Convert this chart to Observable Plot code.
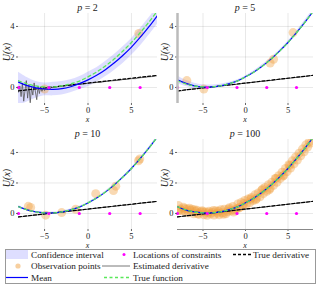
<!DOCTYPE html>
<html><head><meta charset="utf-8">
<script src="https://cdn.jsdelivr.net/npm/d3@7"></script>
<script src="https://cdn.jsdelivr.net/npm/@observablehq/plot@0.6"></script>
<style>
body{margin:0;background:#fff;}
#c{position:relative;width:317px;height:285px;font-family:"Liberation Serif",serif;overflow:hidden;color:#222}
#c svg text{font-family:"Liberation Serif",serif !important}
.p{position:absolute}
.t{position:absolute;white-space:nowrap;transform:translate(-50%,-50%);line-height:1;font-family:"Liberation Serif",serif}
.yl{position:absolute;white-space:nowrap;transform:translate(-50%,-50%) rotate(-90deg);line-height:1;font-size:10px;font-style:italic;font-family:"Liberation Serif",serif}
</style></head><body><div id="c"></div>
<script>
// ---- data ----
const xGrid = [-8,-7,-6,-5,-4,-3,-2,-1,0,1,2,3,4,5,6,7,8];
const trueFn = [0.44,0.23,0.10,0.04,0.04,0.11,0.24,0.42,0.70,1.02,1.41,1.86,2.38,2.95,3.59,4.28,5.03];
const trueDerivX = [-8, 8];
const trueDerivY = [-0.22, 0.80];
const constraintX = [-8, -4.5, -1, 2.5, 6];
const xTicks = [-5, 0, 5];
const yTicks = [0, 2, 4];
const titles = ["2", "5", "10", "100"];

// p = 2
const obs1X = [-5.0, 5.85];
const obs1Y = [-0.1, 3.54];
const mean1 = [0.35,0.12,-0.02,-0.1,-0.12,-0.08,0.05,0.25,0.5,0.8,1.17,1.6,2.1,2.65,3.28,3.97,4.72];
const upper1 = [1.0,0.65,0.4,0.3,0.35,0.4,0.5,0.7,1.0,1.3,1.7,2.15,2.65,3.2,3.85,4.55,5.3];
const lower1 = [-1.2,-0.95,-0.7,-0.55,-0.55,-0.5,-0.35,-0.15,0.05,0.35,0.7,1.1,1.55,2.1,2.7,3.4,4.15];
const deriv1X = [-8,-7.85,-7.7,-7.55,-7.4,-7.25,-7.1,-6.95,-6.8,-6.65,-6.5,-6.35,-6.2,-6.05,-5.9,-5.75,-5.6,-5.45,-5.3,-5.15,-5.0,-4.85,-4.7,-4.55,-4.4,-4.2,-4.0,-3.5,-3,-2.5,-2,-1.5,-1,-0.5,0,0.5,1,1.5,2,2.5,3,3.5,4,4.5,5,5.5,6,6.5,7,7.5,8];
const deriv1Y = [-0.3,0.1,-0.6,0.3,-0.9,-0.2,0.45,-0.7,0.2,-1.0,0.0,-0.5,0.3,-0.3,-0.8,0.1,-0.4,0.05,-0.25,0.0,-0.2,-0.05,-0.15,0.0,-0.1,0.0,0.0,0.05,0.08,0.12,0.13,0.2,0.24,0.22,0.28,0.3,0.33,0.34,0.4,0.42,0.45,0.46,0.52,0.53,0.58,0.58,0.64,0.66,0.70,0.72,0.78];

// p = 5
const obs2X = [-6.9,-4.9,2.9,3.3,5.6];
const obs2Y = [0.45,-0.1,1.6,1.85,3.6];
const mean2 = [0.5,0.27,0.1,0.03,0.04,0.11,0.24,0.42,0.70,1.02,1.41,1.86,2.38,2.95,3.59,4.28,5.03];
const upper2 = [0.75,0.47,0.28,0.18,0.16,0.21,0.32,0.49,0.76,1.09,1.50,1.94,2.45,3.03,3.69,4.40,5.18];
const lower2 = [0.25,0.07,-0.08,-0.12,-0.08,0.01,0.16,0.35,0.64,0.95,1.32,1.78,2.31,2.87,3.49,4.16,4.88];
const deriv2 = [-0.27,-0.15,-0.09,-0.02,0.03,0.1,0.16,0.21,0.29,0.35,0.41,0.46,0.54,0.6,0.66,0.73,0.8];

// p = 10
const obs3X = [-6.87,-6.6,-4.88,-3.03,-1.42,0.89,2.93,3.2,5.81,5.96];
const obs3Y = [0.47,0.4,-0.11,0.06,0.28,1.3,1.51,1.79,3.46,3.57];
const mean3 = [0.45,0.24,0.10,0.04,0.04,0.11,0.24,0.42,0.69,1.01,1.40,1.86,2.38,2.95,3.59,4.28,5.03];
const upper3 = [0.53,0.30,0.15,0.09,0.09,0.16,0.29,0.47,0.74,1.06,1.45,1.91,2.43,3.00,3.64,4.34,5.11];
const lower3 = [0.37,0.18,0.05,-0.01,-0.01,0.06,0.19,0.37,0.64,0.96,1.35,1.81,2.33,2.90,3.54,4.22,4.95];
const deriv3 = [-0.24,-0.17,-0.1,-0.03,0.04,0.09,0.16,0.22,0.28,0.35,0.42,0.47,0.54,0.59,0.67,0.73,0.79];

// p = 100
const obs4X = [-7.9,-7.7,-7.5,-7.3,-7.1,-6.9,-6.7,-6.5,-6.3,-6.1,-5.9,-5.7,-5.5,-5.3,-5.1,-4.9,-4.7,-4.5,-4.3,-4.1,-3.9,-3.7,-3.5,-3.3,-3.1,-2.9,-2.7,-2.5,-2.3,-2.1,-1.9,-1.7,-1.5,-1.3,-1.1,-0.9,-0.7,-0.5,-0.3,-0.1,0.1,0.3,0.5,0.7,0.9,1.1,1.3,1.5,1.7,1.9,2.1,2.3,2.5,2.7,2.9,3.1,3.3,3.5,3.7,3.9,4.1,4.3,4.5,4.7,4.9,5.1,5.3,5.5,5.7,5.9,6.1,6.3,6.5,6.7,6.9,7.1,7.3,7.5,7.7,-7.8,-7.2,-6.6,-6.0,-5.6,-5.0,-4.4,-3.8,-3.2,-2.6,-2.0,-1.4,-0.8,-0.2,0.6,1.2,2.0,2.8,3.6,4.4,5.2];
const obs4Y = [0.52,0.30,0.18,0.41,0.12,0.30,0.05,0.22,0.28,-0.02,0.15,0.22,-0.06,0.12,0.18,-0.08,0.10,-0.12,0.15,-0.03,0.08,-0.10,0.18,0.02,-0.08,0.25,0.05,0.28,-0.02,0.12,0.38,0.18,0.45,0.22,0.30,0.62,0.40,0.72,0.48,0.85,0.60,0.95,0.70,1.05,0.85,1.22,0.98,1.35,1.10,1.52,1.30,1.70,1.45,1.88,1.65,2.05,1.85,2.30,2.05,2.48,2.30,2.70,2.50,2.95,2.75,3.20,2.98,3.45,3.25,3.70,3.50,3.95,3.78,4.22,4.05,4.50,4.35,4.70,4.62,0.2,0.32,0.35,0.25,0.0,0.12,0.05,0.2,0.15,-0.05,0.3,0.1,0.35,0.65,0.95,0.9,1.6,1.55,2.3,2.45,3.15];
const mean4 = [0.44,0.22,0.10,0.04,0.04,0.11,0.24,0.42,0.70,1.02,1.41,1.86,2.38,2.95,3.59,4.28,5.03];
const upper4 = [0.48,0.25,0.13,0.07,0.07,0.14,0.27,0.45,0.73,1.05,1.44,1.89,2.41,2.98,3.62,4.31,5.07];
const lower4 = [0.40,0.19,0.07,0.01,0.01,0.08,0.21,0.39,0.67,0.99,1.38,1.83,2.35,2.92,3.56,4.25,4.99];
const deriv4 = [-0.23,-0.16,-0.09,-0.03,0.04,0.1,0.16,0.23,0.29,0.35,0.41,0.48,0.54,0.61,0.67,0.74,0.8];

// ---- colors ----
const C = {band:"#0000ff", mean:"#0000ff", truef:"#5ae85a", obs:"#f0a040", cons:"#ff00ff", est:"#555", tder:"#000"};
const FONT = "'Liberation Serif', serif";
const fmt = d => d < 0 ? "\u2212" + (-d) : String(d);

const panels = [
  {left:0, top:0, w:160, ml:18, mr:3, obsX:obs1X, obsY:obs1Y, mean:mean1, up:upper1, lo:lower1, dX:deriv1X, dY:deriv1Y},
  {left:158, top:0, w:159, ml:19, mr:4, obsX:obs2X, obsY:obs2Y, mean:mean2, up:upper2, lo:lower2, dX:xGrid, dY:deriv2, leftLine:true},
  {left:0, top:126, w:160, ml:18, mr:3, obsX:obs3X, obsY:obs3Y, mean:mean3, up:upper3, lo:lower3, dX:xGrid, dY:deriv3},
  {left:158, top:126, w:159, ml:19, mr:4, obsX:obs4X, obsY:obs4Y, mean:mean4, up:upper4, lo:lower4, dX:xGrid, dY:deriv4, bottomLine:true}
];

const root = document.getElementById("c");
const H = 124, MT = 13, MB = 21;

panels.forEach((cfg, k) => {
  const band = xGrid.map((x,i) => ({x, lo:cfg.lo[i], hi:cfg.up[i], m:cfg.mean[i], t:trueFn[i]}));
  const obs = cfg.obsX.map((x,i) => ({x, y:cfg.obsY[i]}));
  const der = cfg.dX.map((x,i) => ({x, y:cfg.dY[i]}));
  const tder = trueDerivX.map((x,i) => ({x, y:trueDerivY[i]}));
  const cons = constraintX.map(x => ({x, y:0}));
  const marks = [
    Plot.gridX(xTicks, {stroke:"#000", strokeOpacity:0.09}),
    Plot.gridY(yTicks, {stroke:"#000", strokeOpacity:0.09}),
    Plot.areaY(band, {x:"x", y1:"lo", y2:"hi", fill:C.band, fillOpacity:0.13, curve:"catmull-rom", clip:true}),
    Plot.dot(obs, {x:"x", y:"y", r:4.5, fill:C.obs, fillOpacity:0.4, clip:true}),
    Plot.line(der, {x:"x", y:"y", stroke:C.est, strokeWidth:0.8, clip:true}),
    Plot.line(tder, {x:"x", y:"y", stroke:C.tder, strokeWidth:1.2, strokeDasharray:"3,2", clip:true}),
    Plot.line(band, {x:"x", y:"m", stroke:C.mean, strokeWidth:1.2, curve:"catmull-rom", clip:true}),
    Plot.line(band, {x:"x", y:"t", stroke:C.truef, strokeWidth:1.3, strokeDasharray:"3,3", curve:"catmull-rom", clip:true}),
    Plot.dot(cons, {x:"x", y:"y", r:1.6, fill:C.cons}),
    Plot.axisX(xTicks, {tickSize:2, tickPadding:1, label:null, tickFormat:fmt, stroke:"#666", fontSize:8.5}),
    Plot.axisY(yTicks, {tickSize:2, tickPadding:2, label:null, tickFormat:fmt, stroke:"#666", fontSize:8.5})
  ];
  if (cfg.leftLine) marks.push(Plot.ruleX([-8], {stroke:"#bbb", strokeWidth:2.5}));
  if (cfg.bottomLine) marks.push(Plot.ruleY([-1.05], {stroke:"#888", strokeWidth:1}));
  const svg = Plot.plot({
    width: cfg.w, height: H, marginLeft: cfg.ml, marginRight: cfg.mr, marginTop: MT, marginBottom: MB,
    style: `font-family:${FONT};font-size:8.5px;background:transparent;overflow:visible;color:#222`,
    x: {domain:[-8, 8]},
    y: {domain:[-1.05, 4.85]},
    marks
  });
  svg.classList.add("p");
  svg.style.left = cfg.left + "px";
  svg.style.top = cfg.top + "px";
  svg.querySelectorAll("text").forEach(t => t.setAttribute("font-family", FONT));
  root.appendChild(svg);

  const cx = cfg.left + cfg.ml + (cfg.w - cfg.ml - cfg.mr) / 2;
  const t = document.createElement("div");
  t.className = "t"; t.style.fontSize = "10px";
  t.style.left = cx + "px"; t.style.top = (cfg.top + 8) + "px";
  t.innerHTML = "<i>p</i> = " + titles[k];
  root.appendChild(t);
  const xl = document.createElement("div");
  xl.className = "t"; xl.style.fontSize = "8px";
  xl.style.left = cx + "px"; xl.style.top = (cfg.top + 120) + "px";
  xl.innerHTML = "<i>x</i>";
  root.appendChild(xl);
  const yl = document.createElement("div");
  yl.className = "yl";
  yl.style.left = (cfg.left + 7) + "px"; yl.style.top = (cfg.top + 52) + "px";
  yl.textContent = "U(x)";
  root.appendChild(yl);
});

// ---- legend ----
const legendItems = [
  {label:"Confidence interval", kind:"rect", sx:6, tx:31, row:0},
  {label:"Locations of constraints", kind:"cons", sx:124, tx:133, row:0},
  {label:"True derivative", kind:"tder", sx:233, tx:253, row:0},
  {label:"Observation points", kind:"obs", sx:18, tx:31, row:1},
  {label:"Estimated derivative", kind:"est", sx:102, tx:133, row:1},
  {label:"Mean", kind:"mean", sx:6, tx:31, row:2},
  {label:"True function", kind:"truef", sx:104, tx:133, row:2}
];
const lg = d3.create("svg").attr("width", 317).attr("height", 36)
  .style("position","absolute").style("left","0px").style("top","249px");
lg.append("rect").attr("x",5.5).attr("y",0.5).attr("width",310).attr("height",34)
  .attr("fill","#fff").attr("stroke","#999");
const rowY = [5.5, 17, 28.5];
legendItems.forEach(it => {
  const y = rowY[it.row];
  if (it.kind === "rect") lg.append("rect").attr("x",6).attr("y",y-4.5).attr("width",22).attr("height",9).attr("fill",C.band).attr("fill-opacity",0.13);
  if (it.kind === "cons") lg.append("circle").attr("cx",it.sx).attr("cy",y).attr("r",1.5).attr("fill",C.cons);
  if (it.kind === "obs") lg.append("circle").attr("cx",it.sx).attr("cy",y).attr("r",2.6).attr("fill",C.obs).attr("fill-opacity",0.5);
  if (it.kind === "tder") lg.append("line").attr("x1",it.sx).attr("x2",it.sx+18).attr("y1",y).attr("y2",y).attr("stroke",C.tder).attr("stroke-width",1.4).attr("stroke-dasharray","3,2");
  if (it.kind === "est") lg.append("line").attr("x1",it.sx).attr("x2",it.sx+28).attr("y1",y).attr("y2",y).attr("stroke",C.est).attr("stroke-width",0.8);
  if (it.kind === "mean") lg.append("line").attr("x1",it.sx).attr("x2",it.sx+22).attr("y1",y).attr("y2",y).attr("stroke",C.mean).attr("stroke-width",1.2);
  if (it.kind === "truef") lg.append("line").attr("x1",it.sx).attr("x2",it.sx+26).attr("y1",y).attr("y2",y).attr("stroke",C.truef).attr("stroke-width",1.3).attr("stroke-dasharray","3,2.5");
  lg.append("text").attr("x",it.tx).attr("y",y).attr("dy","0.35em")
    .attr("font-family",FONT).attr("font-size","9.2px").attr("fill","#222").text(it.label);
});
root.appendChild(lg.node());
</script>
</body></html>
